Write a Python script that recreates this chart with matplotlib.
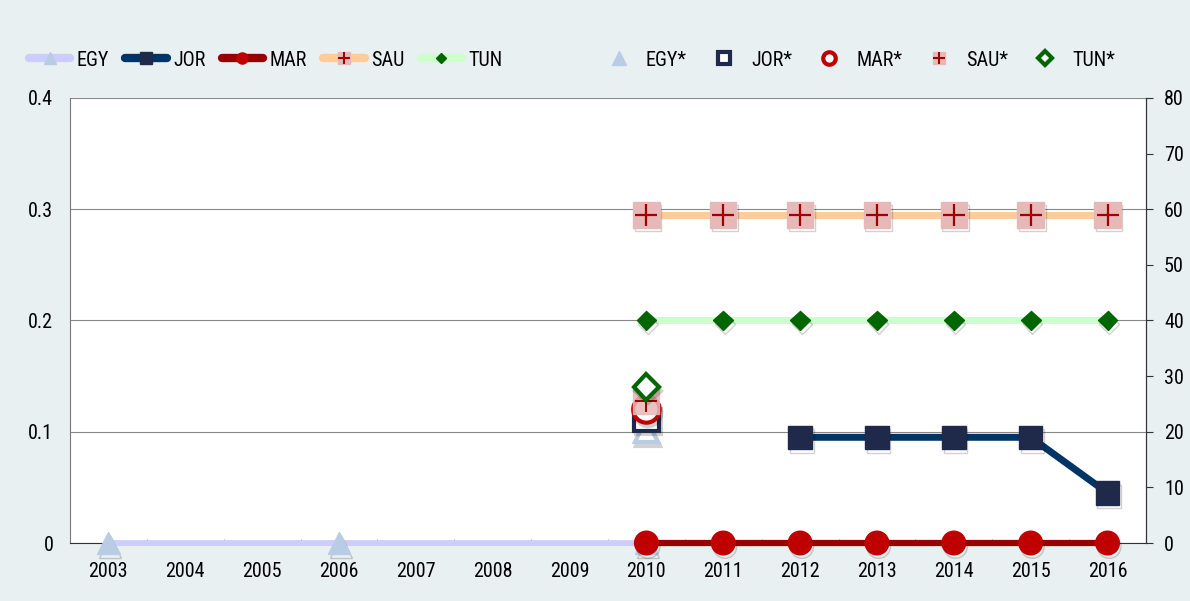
import numpy as np
import matplotlib
matplotlib.use("Agg")
import matplotlib.pyplot as plt
import matplotlib.patheffects as pe
from matplotlib.ticker import FixedLocator
from matplotlib.lines import Line2D
from matplotlib import font_manager as fm

# pick a narrow font if one is installed
avail = {f.name for f in fm.fontManager.ttflist}
narrow = [n for n in ['Liberation Sans Narrow', 'Roboto Condensed', 'Open Sans Condensed',
                      'DejaVu Sans Condensed'] if n in avail]
plt.rcParams['font.family'] = narrow + ['DejaVu Sans']
if not narrow:
    plt.rcParams['font.stretch'] = 'condensed'

# data
years = list(range(2003, 2017))
egy_years = [2003, 2006, 2010]
egy = [0, 0, 0]
jor_years = [2012, 2013, 2014, 2015, 2016]
jor = [0.095, 0.095, 0.095, 0.095, 0.045]
mar_years = [2010, 2011, 2012, 2013, 2014, 2015, 2016]
mar = [0, 0, 0, 0, 0, 0, 0]
sau_years = mar_years
sau = [0.295] * 7
tun_years = mar_years
tun = [0.2] * 7

star_year = [2010]
egy_star = [0.101]
jor_star = [0.112]
mar_star = [0.12]
sau_star = [0.128]
tun_star = [0.14]

bg = '#e9f0f2'
shadow = [pe.SimpleLineShadow(offset=(1.2, -2.5), alpha=0.18, shadow_color='black'), pe.Normal()]
fs = 14.5
lfs = 14.5

fig = plt.figure(figsize=(11.9, 6.01), dpi=100, facecolor=bg)
ax = fig.add_axes([0.0588, 0.0965, 0.9042, 0.7405])
ax.set_facecolor('white')


def series(x, y, lc, lw, mk, ms, mc):
    ax.plot(x, y, color=lc, lw=lw, solid_capstyle='round', clip_on=False, zorder=3)
    m, = ax.plot(x, y, ls='none', marker=mk, ms=ms, mfc=mc, mec=mc, clip_on=False, zorder=4)
    m.set_path_effects(shadow)


series(egy_years, egy, '#ccccff', 4.2, '^', 16, '#b8cce4')
series(jor_years, jor, '#003366', 5, 's', 17, '#1f2a4a')
series(mar_years, mar, '#990000', 4.5, 'o', 17, '#c00000')
series(sau_years, sau, '#ffcc99', 5.2, 's', 19, '#e6b9b8')
ax.plot(sau_years, sau, ls='none', marker='+', ms=16, mew=1.6, color='#a00000', zorder=5)
series(tun_years, tun, '#ccffcc', 5, 'D', 10, '#006600')

# starred values
m, = ax.plot(star_year, egy_star, ls='none', marker='^', ms=17, mfc='white', mec='#b8cce4', mew=3, zorder=6)
m.set_path_effects(shadow)
m, = ax.plot(star_year, jor_star, ls='none', marker='s', ms=18, mfc='white', mec='#1f2a4a', mew=3, zorder=6)
m.set_path_effects(shadow)
m, = ax.plot(star_year, mar_star, ls='none', marker='o', ms=19, mfc='white', mec='#c00000', mew=3, zorder=6)
m.set_path_effects(shadow)
ax.plot(star_year, sau_star, ls='none', marker='s', ms=19, mfc='#e6b9b8', mec='#e6b9b8', alpha=0.85, zorder=6)
ax.plot(star_year, sau_star, ls='none', marker='+', ms=16, mew=1.4, color='#a00000', zorder=6)
m, = ax.plot(star_year, tun_star, ls='none', marker='D', ms=13, mfc='white', mec='#006600', mew=3, zorder=6)
m.set_path_effects(shadow)

ax.set_xlim(2002.5, 2016.5)
ax.set_ylim(0, 0.4)
ax.set_xticks(years)
ax.xaxis.set_minor_locator(FixedLocator(np.arange(2003.5, 2016, 1)))
ax.tick_params(axis='x', which='major', length=0, labelsize=fs, pad=14)
ax.tick_params(axis='x', which='minor', direction='in', length=3, color='#888888')
ax.set_yticks([0, 0.1, 0.2, 0.3, 0.4])
ax.set_yticklabels(['0', '0.1', '0.2', '0.3', '0.4'])
ax.tick_params(axis='y', length=0, labelsize=fs, pad=12)
ax.yaxis.grid(True, color='#888888', lw=0.8)
ax.set_axisbelow(True)
ax.spines['top'].set_visible(False)
ax.spines['left'].set_color('#777777')
ax.spines['bottom'].set_color('#333333')
ax.spines['right'].set_color('#333333')

ax2 = ax.twinx()
ax2.set_ylim(0, 80)
ax2.set_yticks(range(0, 81, 10))
ax2.tick_params(axis='y', length=5, labelsize=fs, pad=8, color='#333333')
ax2.spines['top'].set_visible(False)
ax2.spines['right'].set_color('#333333')
ax2.spines['left'].set_visible(False)
ax2.spines['bottom'].set_visible(False)

# legends
line_handles = [
    Line2D([0], [0], color='#ccccff', lw=6, marker='^', ms=8, mfc='#b8cce4', mec='#b8cce4', solid_capstyle='round'),
    Line2D([0], [0], color='#003366', lw=6, marker='s', ms=8, mfc='#1f2a4a', mec='#1f2a4a', solid_capstyle='round'),
    Line2D([0], [0], color='#990000', lw=6, marker='o', ms=8, mfc='#c00000', mec='#c00000', solid_capstyle='round'),
    (Line2D([0], [0], color='#ffcc99', lw=6, marker='s', ms=8, mfc='#e6b9b8', mec='#e6b9b8', solid_capstyle='round'),
     Line2D([0], [0], ls='none', marker='+', ms=8, mew=1.5, color='#a00000')),
    Line2D([0], [0], color='#ccffcc', lw=6, marker='D', ms=5.5, mfc='#006600', mec='#006600', solid_capstyle='round'),
]
star_handles = [
    Line2D([0], [0], ls='none', marker='^', ms=10, mfc='#b8cce4', mec='#b8cce4'),
    Line2D([0], [0], ls='none', marker='s', ms=8, mfc='white', mec='#1f2a4a', mew=3),
    Line2D([0], [0], ls='none', marker='o', ms=9, mfc='white', mec='#c00000', mew=3),
    (Line2D([0], [0], ls='none', marker='s', ms=8, mfc='#e6b9b8', mec='#e6b9b8'),
     Line2D([0], [0], ls='none', marker='+', ms=8, mew=1.5, color='#a00000')),
    Line2D([0], [0], ls='none', marker='D', ms=7.5, mfc='white', mec='#006600', mew=3),
]
line_labels = ['EGY', 'JOR', 'MAR', 'SAU', 'TUN']
star_labels = ['EGY*', 'JOR*', 'MAR*', 'SAU*', 'TUN*']
leg_kw = dict(loc='center left', ncol=5, frameon=False, fontsize=lfs, handlelength=2.05,
              handletextpad=0.33, columnspacing=0.8, borderpad=0, borderaxespad=0)
fig.legend(line_handles, line_labels, bbox_to_anchor=(29 / 1190, 1 - 60 / 601), **leg_kw)
fig.legend(star_handles, star_labels, bbox_to_anchor=(598 / 1190, 1 - 60 / 601), **leg_kw)

fig.savefig('out.png', dpi=100, facecolor=bg)
